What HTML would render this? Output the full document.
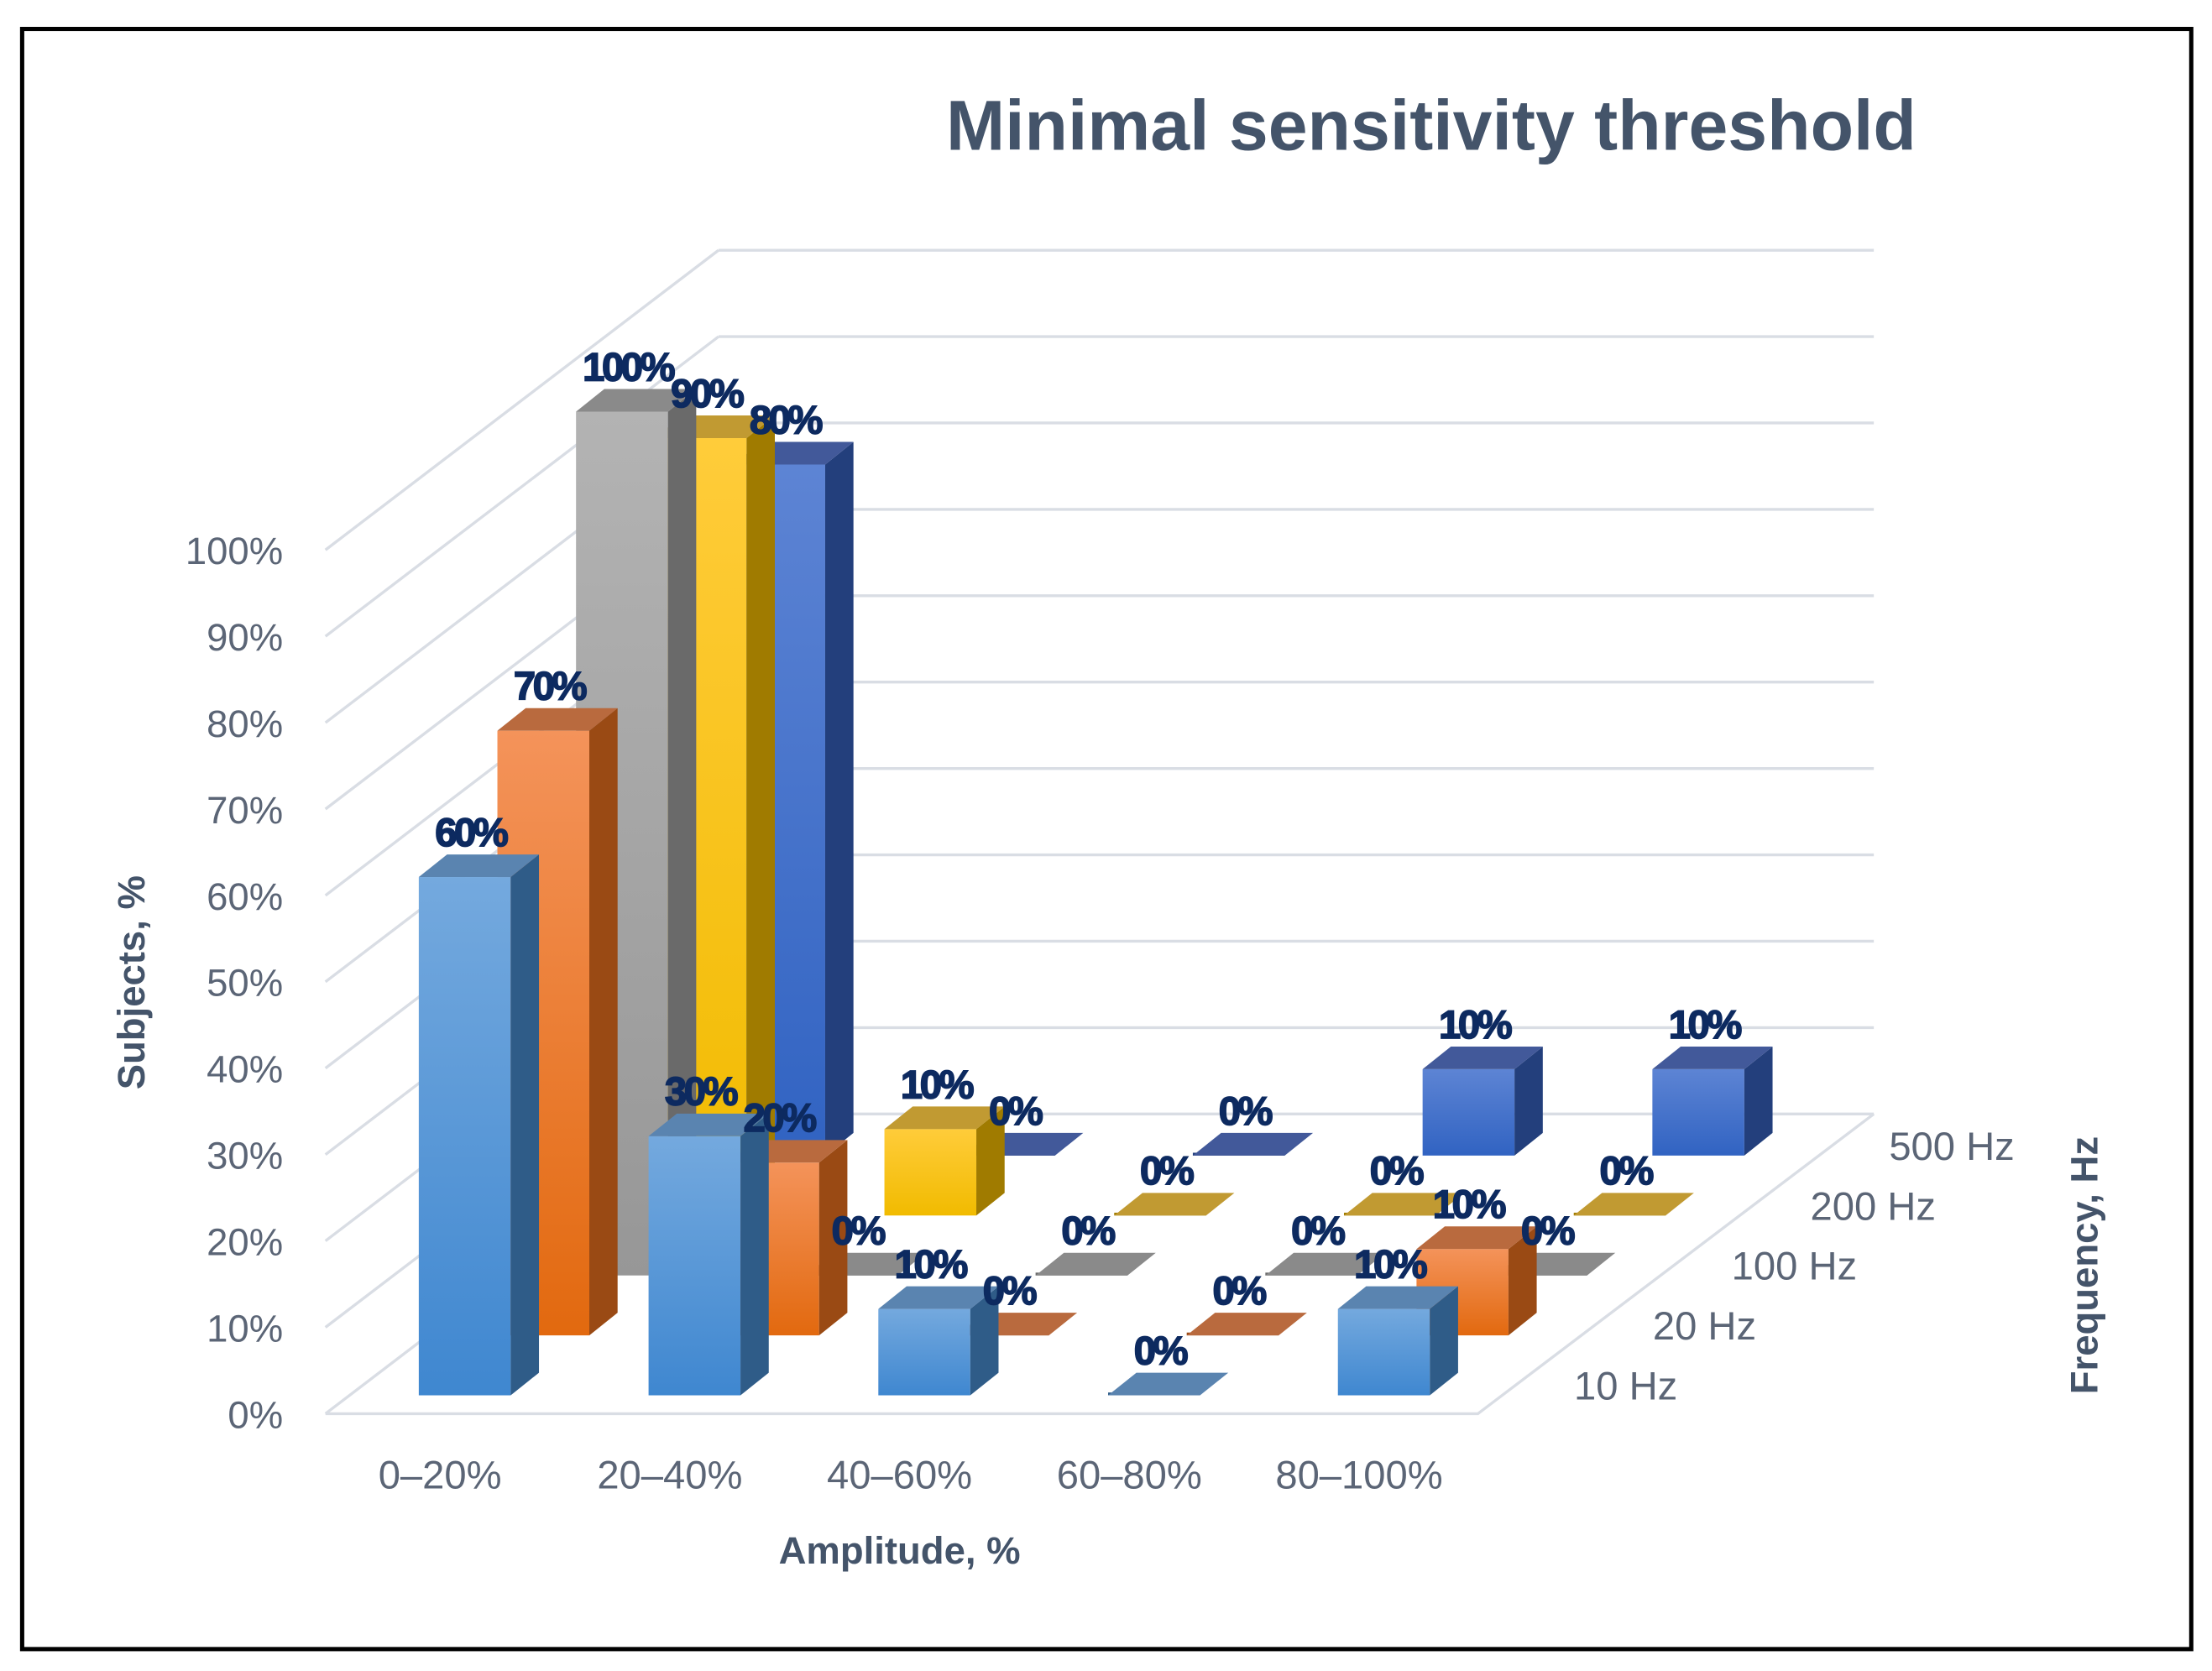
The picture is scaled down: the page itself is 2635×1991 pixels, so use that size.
<!DOCTYPE html>
<html><head><meta charset="utf-8"><style>
html,body{margin:0;padding:0;background:#fff;}
svg{display:block;}
text{font-family:"Liberation Sans",sans-serif;}
</style></head><body>
<svg id="chart" width="2635" height="1991" viewBox="0 0 1564 1182" xmlns="http://www.w3.org/2000/svg">
<defs>
<linearGradient id="g0" x1="0" y1="0" x2="0" y2="1"><stop offset="0" stop-color="#74a9de"/><stop offset="1" stop-color="#3f87d0"/></linearGradient>
<linearGradient id="g1" x1="0" y1="0" x2="0" y2="1"><stop offset="0" stop-color="#f4935a"/><stop offset="1" stop-color="#e2690f"/></linearGradient>
<linearGradient id="g2" x1="0" y1="0" x2="0" y2="1"><stop offset="0" stop-color="#b3b3b3"/><stop offset="1" stop-color="#979797"/></linearGradient>
<linearGradient id="g3" x1="0" y1="0" x2="0" y2="1"><stop offset="0" stop-color="#ffcc3a"/><stop offset="1" stop-color="#f1bb00"/></linearGradient>
<linearGradient id="g4" x1="0" y1="0" x2="0" y2="1"><stop offset="0" stop-color="#5d84d4"/><stop offset="1" stop-color="#3163c2"/></linearGradient>
</defs>
<rect x="15.5" y="20.5" width="1534" height="1146" fill="#fff" stroke="#000" stroke-width="3"/>
<text x="1012" y="106" text-anchor="middle" font-size="50" font-weight="bold" fill="#44546a">Minimal sensitivity threshold</text>
<g id="grid"></g>
<g id="bars"></g>
<g id="labels"></g>
<g id="axes"></g>
<text transform="translate(102,695) rotate(-90)" text-anchor="middle" font-size="27" font-weight="bold" fill="#44546a">Subjects, %</text>
<text x="636" y="1106" text-anchor="middle" font-size="27" font-weight="bold" fill="#44546a">Amplitude, %</text>
<text transform="translate(1483,895) rotate(-90)" text-anchor="middle" font-size="27" font-weight="bold" fill="#44546a">Frequency, Hz</text>
</svg>
<script>
const categories = ["0–20%","20–40%","40–60%","60–80%","80–100%"];
const seriesNames = ["10 Hz","20 Hz","100 Hz","200 Hz","500 Hz"];
const s10Hz = [60,30,10,0,10];
const s20Hz = [70,20,0,0,10];
const s100Hz = [100,0,0,0,0];
const s200Hz = [90,10,0,0,0];
const s500Hz = [80,0,0,10,10];
const yTicks = [0,10,20,30,40,50,60,70,80,90,100];
const yTickLabels = ["0%","10%","20%","30%","40%","50%","60%","70%","80%","90%","100%"];

const series = [s10Hz,s20Hz,s100Hz,s200Hz,s500Hz];
const NS="http://www.w3.org/2000/svg";
const X0=296, CAT=162.5, BW=65, DX=55.6, DY=42.4, BASE=987, H=6.11, SX=20, SY=16;
const fronts=["url(#g0)","url(#g1)","url(#g2)","url(#g3)","url(#g4)"];
const sides=["#2f5c88","#9a4a14","#6a6a6a","#a07b00","#233f7c"];
const tops=["#5a84b0","#b96a3e","#8a8a8a","#c19a32","#42599a"];
function xS(c,r){return X0+c*CAT+r*DX;}
function yB(r){return BASE-r*DY;}
function yV(v,r){return yB(r)-v*H;}
function el(tag,attrs,parent){const e=document.createElementNS(NS,tag);for(const k in attrs)e.setAttribute(k,attrs[k]);parent.appendChild(e);return e;}
const grid=document.getElementById('grid');
// Wall/floor gridlines
yTicks.forEach((t,i)=>{
  const yf=1000-t*6.11, yb=788-t*6.11;
  const l1=el('line',{x1:230,y1:yf,x2:508,y2:yb,stroke:"#d9dde4","stroke-width":2},grid);
  
  
  const l2=el('line',{x1:508,y1:yb,x2:1325,y2:yb,stroke:"#d9dde4","stroke-width":2},grid);
  
  
});
const fl=el('polyline',{points:"230,1000 1045,1000 1325,788",fill:"none",stroke:"#d9dde4","stroke-width":2},grid);


const bars=document.getElementById('bars'), labels=document.getElementById('labels'), axes=document.getElementById('axes');
for(let r=series.length-1;r>=0;r--){
  series[r].forEach((v,c)=>{
    const x=xS(c,r), yb=yB(r), yt=yV(v,r);
    const g=el('g',{},bars);
    
    
    if(v>0){
      el('rect',{x:x,y:yt,width:BW,height:yb-yt,fill:fronts[r]},g);
      el('polygon',{points:`${x+BW},${yt} ${x+BW+SX},${yt-SY} ${x+BW+SX},${yb-SY} ${x+BW},${yb}`,fill:sides[r]},g);
    } else {
      el('rect',{x:x,y:yb-2,width:BW,height:2,fill:sides[r]},g);
    }
    el('polygon',{points:`${x},${yt} ${x+SX},${yt-SY} ${x+BW+SX},${yt-SY} ${x+BW},${yt}`,fill:tops[r]},g);
    const t=el('text',{x:x+BW/2+4,y:yt-22,"text-anchor":"middle","font-size":28,"font-weight":"bold","letter-spacing":"-2",fill:"#0d2a60",stroke:"#0d2a60","stroke-width":1},labels);
    
    
    t.textContent=v+'%';
  });
}
yTicks.forEach((tk,i)=>{
  const t=el('text',{x:200,y:1000-tk*6.11+10,"text-anchor":"end","font-size":27,fill:"#5b6576"},axes);
  
  
  t.textContent=yTickLabels[i];
});
categories.forEach((c,i)=>{
  const t=el('text',{x:311+i*162.5,y:1053,"text-anchor":"middle","font-size":28,fill:"#5b6576"},axes);
  
  
  t.textContent=c;
});
seriesNames.forEach((s,r)=>{
  const t=el('text',{x:1113+r*55.7,y:990-r*42.4,"font-size":28,fill:"#5b6576"},axes);
  
  
  t.textContent=s;
});
</script>
</body></html>
